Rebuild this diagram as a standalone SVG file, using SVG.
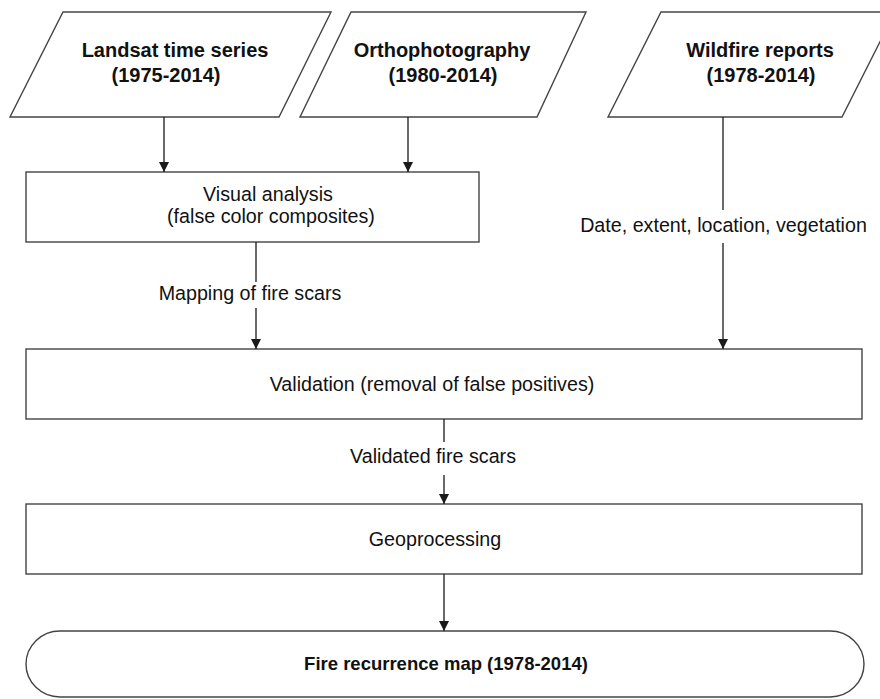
<svg xmlns="http://www.w3.org/2000/svg" width="880" height="699" viewBox="0 0 880 699">
<defs>
<marker id="ah" viewBox="0 0 10 10" refX="10" refY="5" markerWidth="10" markerHeight="10" markerUnits="userSpaceOnUse" orient="auto">
<path d="M0,0 L10,5 L0,10 Z" fill="#1a1a1a"/>
</marker>
<style>
.shape{fill:#fff;stroke:#444;stroke-width:1.4}
.b{font-family:"Liberation Sans",Arial,sans-serif;font-weight:bold;font-size:20px;fill:#111;text-anchor:middle}
.r{font-family:"Liberation Sans",Arial,sans-serif;font-size:19.7px;fill:#111;text-anchor:middle}
.c{fill:none;stroke:#1a1a1a;stroke-width:1.3}
</style>
</defs>
<rect width="880" height="699" fill="#fff"/>
<g id="landsat">
<polygon class="shape" points="63,12 331,12 279,117 10,117"/>
<text class="b" x="175" y="57">Landsat time series</text>
<text class="b" x="166" y="82">(1975-2014)</text>
</g>
<g id="ortho">
<polygon class="shape" points="351,12 586,12 537,117 300,117"/>
<text class="b" x="442" y="57">Orthophotography</text>
<text class="b" x="443" y="82">(1980-2014)</text>
</g>
<g id="wildfire">
<polygon class="shape" points="661,12 895,12 842,117 608,117"/>
<text class="b" x="760" y="57">Wildfire reports</text>
<text class="b" x="761" y="82">(1978-2014)</text>
</g>
<g id="visual">
<rect class="shape" x="26" y="172" width="453" height="70"/>
<text class="r" x="268" y="201">Visual analysis</text>
<text class="r" x="271" y="223">(false color composites)</text>
</g>
<g id="validation">
<rect class="shape" x="26" y="349" width="836" height="70"/>
<text class="r" x="432" y="391">Validation (removal of false positives)</text>
</g>
<g id="geo">
<rect class="shape" x="26" y="504" width="836" height="70"/>
<text class="r" x="435" y="546">Geoprocessing</text>
</g>
<g id="map">
<rect class="shape" x="26" y="631" width="838" height="66" rx="34" ry="33"/>
<text class="b" x="446" y="670" style="font-size:18.5px">Fire recurrence map (1978-2014)</text>
</g>
<g id="connectors">
<line class="c" x1="164" y1="117" x2="164" y2="172" marker-end="url(#ah)"/>
<line class="c" x1="408" y1="117" x2="408" y2="172" marker-end="url(#ah)"/>
<line class="c" x1="723" y1="117" x2="723" y2="210"/>
<line class="c" x1="723" y1="243" x2="723" y2="349" marker-end="url(#ah)"/>
<line class="c" x1="256" y1="242" x2="256" y2="282"/>
<line class="c" x1="256" y1="308" x2="256" y2="349" marker-end="url(#ah)"/>
<line class="c" x1="444" y1="419" x2="444" y2="442"/>
<line class="c" x1="444" y1="475" x2="444" y2="504" marker-end="url(#ah)"/>
<line class="c" x1="444" y1="574" x2="444" y2="631" marker-end="url(#ah)"/>
<text class="r" x="250" y="300">Mapping of fire scars</text>
<text class="r" x="723.5" y="232">Date, extent, location, vegetation</text>
<text class="r" x="433" y="463">Validated fire scars</text>
</g>
</svg>
